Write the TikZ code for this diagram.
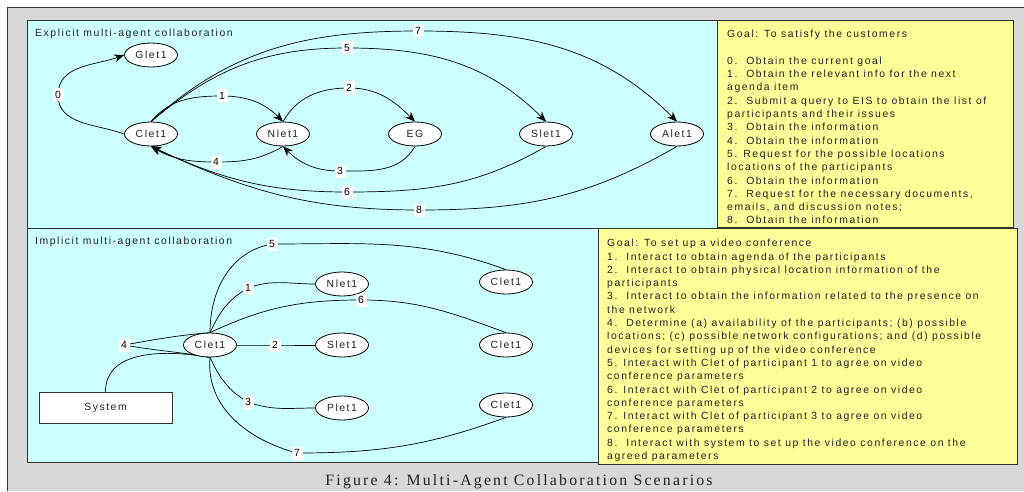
\documentclass[tikz,border=0pt]{standalone}
\usepackage{fontspec}
\setmainfont{Liberation Sans}
\newfontfamily\arialsp[LetterSpace=15]{Liberation Sans}
\newfontfamily\timessp[LetterSpace=14]{Liberation Serif}
\usetikzlibrary{arrows.meta,shapes.geometric}
\definecolor{panelgray}{HTML}{D8D8D8}
\definecolor{panelcyan}{HTML}{CCFFFF}
\definecolor{panelyellow}{HTML}{FFFF99}
\definecolor{framedark}{HTML}{333333}
\definecolor{textdark}{HTML}{222222}
\pgfdeclarelayer{back}
\pgfdeclarelayer{edges}
\pgfsetlayers{back,edges,main}
\tikzset{
  agent/.style={ellipse,draw=black,fill=white,line width=0.8pt,minimum width=53pt,minimum height=24pt,inner sep=0pt,
    font=\arialsp\fontsize{10.4}{12}\selectfont,text=textdark},
  lab/.style={fill=white,inner sep=0pt,minimum width=11pt,minimum height=13pt,font=\fontsize{10.4}{12}\selectfont,text=black},
  conn/.style={draw=black,line width=0.7pt},
  arr/.style={conn,-{Stealth[length=10pt,width=8pt]}},
  paneltitle/.style={anchor=west,inner sep=0pt,font=\arialsp\fontsize{10.4}{12}\selectfont,text=textdark},
  yeltext/.style={anchor=north west,inner sep=0pt,align=left,font=\arialsp\fontsize{10.4}{13.3}\selectfont,text=textdark},
  sysbox/.style={draw=framedark,fill=white,line width=0.8pt,minimum width=133pt,minimum height=31pt,inner sep=0pt,
    font=\arialsp\fontsize{10.4}{12}\selectfont,text=textdark},
}
\begin{document}
\begin{tikzpicture}[x=1pt,y=1pt]
\useasboundingbox (0,0) rectangle (1024,491);
\begin{pgfonlayer}{back}
  \fill[white] (0,0) rectangle (1024,491);
  \fill[panelgray] (7,0) rectangle (1024,484);
  \draw[framedark,line width=0.8pt] (7,0) -- (7,484) -- (1024,484);
  \draw[framedark,fill=panelcyan,line width=0.8pt] (27,263) rectangle (720,471);
  \draw[framedark,fill=panelyellow,line width=0.8pt] (717,263.5) rectangle (1013,471);
  \draw[framedark,fill=panelcyan,line width=0.8pt] (27,29) rectangle (599,263);
  \draw[framedark,fill=panelyellow,line width=0.8pt] (598,27) rectangle (1017,263);
\end{pgfonlayer}

% titles
\node[paneltitle] (ttop) at (35,457) {Explicit multi-agent collaboration};
\node[paneltitle] (tbot) at (35,249) {Implicit multi-agent collaboration};

% explicit agents
\node[agent] (g1) at (151,436) {Glet1};
\node[agent] (c1) at (151,357) {Clet1};
\node[agent] (n1) at (283,357) {Nlet1};
\node[agent] (eg) at (415,357) {EG};
\node[agent] (s1) at (546,357) {Slet1};
\node[agent] (a1) at (677,357) {Alet1};

\node[lab] (l0) at (58,396) {0};
\node[lab] (l1) at (222,395) {1};
\node[lab] (l2) at (349,403) {2};
\node[lab] (l3) at (340,320) {3};
\node[lab] (l4) at (216,329) {4};
\node[lab] (l5) at (347,443) {5};
\node[lab] (l6) at (347,299) {6};
\node[lab] (l7) at (418,460) {7};
\node[lab] (l8) at (419,281) {8};

% implicit agents
\node[agent] (c2) at (210,146) {Clet1};
\node[agent] (nb) at (342,207) {Nlet1};
\node[agent] (sb) at (342,146) {Slet1};
\node[agent] (pb) at (342,83) {Plet1};
\node[agent] (r1) at (506,209) {Clet1};
\node[agent] (r2) at (506,146) {Clet1};
\node[agent] (r3) at (506,86) {Clet1};
\node[sysbox] (sys) at (105.5,83.5) {System};

\node[lab] (m1) at (248,203) {1};
\node[lab] (m2) at (275,146) {2};
\node[lab] (m3) at (248,89) {3};
\node[lab] (m4) at (124,146) {4};
\node[lab] (m5) at (272,247) {5};
\node[lab] (m6) at (361,191) {6};
\node[lab] (m7) at (297,38) {7};

\begin{pgfonlayer}{edges}
  \draw[arr] (c1.west) to[out=160,in=-90] (l0.center) to[out=90,in=200] (g1.west);
  \draw[arr] (c1.north) to[out=50,in=180] (l1.center) to[out=0,in=135] (n1.north);
  \draw[arr] (n1.north) to[out=60,in=180] (l2.center) to[out=0,in=135] (eg.north);
  \draw[arr] (eg.south) to[out=-120,in=0] (l3.center) to[out=180,in=-45] (n1.south);
  \draw[arr] (n1.south) to[out=-150,in=0] (l4.center) to[out=180,in=-30] (c1.south);
  \draw[arr] (c1.north) to[out=40,in=180] (l5.center) to[out=0,in=135] (s1.north);
  \draw[arr] (c1.north) to[out=42,in=180] (l7.center) to[out=0,in=135] (a1.north);
  \draw[arr] (s1.south) to[out=-150,in=0] (l6.center) to[out=180,in=-25] (c1.south);
  \draw[arr] (a1.south) to[out=-150,in=0] (l8.center) to[out=180,in=-25] (c1.south);

  \draw[conn] (c2.north) to[out=90,in=190] (m5.center) to[out=0,in=160] (r1.north);
  \draw[conn] (c2.north) to[out=65,in=210] (m1.center) to[out=20,in=180] (nb.west);
  \draw[conn] (c2.north) to[out=25,in=180] (m6.center) to[out=0,in=160] (r2.north);
  \draw[conn] (c2.east) -- (m2.center) -- (sb.west);
  \draw[conn] (c2.south) to[out=-65,in=150] (m3.center) to[out=-20,in=180] (pb.west);
  \draw[conn] (c2.south) to[out=-95,in=165] (m7.center) to[out=0,in=200] (r3.south);
  \draw[conn] (c2.north) to[out=185,in=10] (m4.center) to[out=-10,in=170] (c2.south);
  \draw[conn] (sys.north) to[out=90,in=170] (c2.south);
\end{pgfonlayer}

% goal texts
\node[yeltext] (goal1) at (727,461) {Goal: To satisfy the customers\\[13.3pt]
0.\ \ Obtain the current goal\\
1.\ \ Obtain the relevant info for the next\\
agenda item\\
2.\ \ Submit a query to EIS to obtain the list of\\
participants and their issues\\
3.\ \ Obtain the information\\
4.\ \ Obtain the information\\
5. Request for the possible locations\\
locations of the participants\\
6.\ \ Obtain the information\\
7.\ \ Request for the necessary documents,\\
emails, and discussion notes;\\
8.\ \ Obtain the information};

\node[yeltext] (goal2) at (607,252) {Goal: To set up a video conference\\
1.\ \ Interact to obtain agenda of the participants\\
2.\ \ Interact to obtain physical location information of the\\
participants\\
3.\ \ Interact to obtain the information related to the presence on\\
the network\\
4.\ \ Determine (a) availability of the participants; (b) possible\\
locations; (c) possible network configurations; and (d) possible\\
devices for setting up of the video conference\\
5. Interact with Clet of participant 1 to agree on video\\
conference parameters\\
6. Interact with Clet of participant 2 to agree on video\\
conference parameters\\
7. Interact with Clet of participant 3 to agree on video\\
conference parameters\\
8.\ \ Interact with system to set up the video conference on the\\
agreed parameters};

\node[inner sep=0pt,anchor=base,font=\timessp\fontsize{15.8}{18}\selectfont,text=textdark] (cap) at (519,6) {Figure 4: Multi-Agent Collaboration Scenarios};
\end{tikzpicture}
\end{document}
